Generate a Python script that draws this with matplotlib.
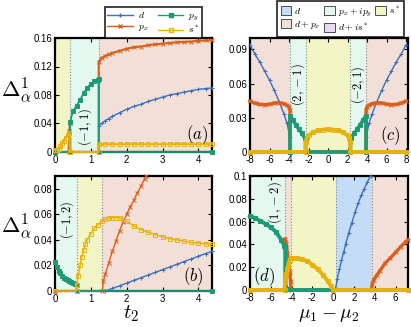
import matplotlib
matplotlib.use("Agg")
import matplotlib.pyplot as plt
from matplotlib.patches import Patch
from matplotlib.lines import Line2D

plt.rcParams['font.family'] = ['Liberation Sans', 'DejaVu Sans']
plt.rcParams['mathtext.fontset'] = 'cm'

# ---------------- colours ----------------
C_D, C_PX, C_PY, C_S = "#3c6fc0", "#d9601a", "#1d9a76", "#e8b20e"
R_D, R_DPX, R_PXPY, R_DIS, R_S = "#c4dcf6", "#f2e0d8", "#e4f8ef", "#e6d8f0", "#f2f5c6"

# ---------------- panel (a) data: t2 ----------------
a_d_x = [0, 1.22, 1.22, 1.3, 1.4, 1.5, 1.6, 1.8, 2.0, 2.2, 2.4, 2.6, 2.8, 3.0, 3.2, 3.4, 3.6, 3.8, 4.0, 4.2, 4.38]
a_d_y = [0, 0, 0.036, 0.040, 0.044, 0.047, 0.050, 0.055, 0.060, 0.064, 0.067, 0.071, 0.074, 0.077, 0.080, 0.082, 0.084, 0.086, 0.088, 0.089, 0.090]
a_px_x = [0, 0.38, 0.40, 0.42, 0.43, 1.22, 1.22, 1.3, 1.4, 1.5, 1.6, 1.8, 2.0, 2.2, 2.4, 2.6, 2.8, 3.0, 3.2, 3.4, 3.6, 3.8, 4.0, 4.2, 4.38]
a_px_y = [0, 0, 0.030, 0.040, 0, 0, 0.127, 0.132, 0.135, 0.137, 0.139, 0.142, 0.145, 0.147, 0.148, 0.150, 0.151, 0.152, 0.153, 0.154, 0.1545, 0.155, 0.156, 0.1565, 0.157]
a_py_x = [0, 0.42, 0.42, 0.5, 0.6, 0.7, 0.8, 0.9, 1.0, 1.1, 1.2, 1.22, 1.22, 4.38]
a_py_y = [0, 0, 0.042, 0.057, 0.065, 0.073, 0.083, 0.090, 0.096, 0.099, 0.101, 0.102, 0, 0]
a_s_x = [0, 0.05, 0.1, 0.15, 0.2, 0.25, 0.3, 0.35, 0.4, 0.42, 1.22, 1.22, 1.4, 1.6, 1.8, 2.0, 2.2, 2.4, 2.6, 2.8, 3.0, 3.2, 3.4, 3.6, 3.8, 4.0, 4.2, 4.38]
a_s_y = [0.003, 0.003, 0.004, 0.008, 0.012, 0.016, 0.020, 0.024, 0.027, 0, 0, 0.011, 0.011, 0.011, 0.011, 0.011, 0.011, 0.011, 0.011, 0.011, 0.011, 0.011, 0.011, 0.011, 0.011, 0.011, 0.011, 0.011]
a_regions = [(0, 0.42, R_S), (0.42, 1.22, R_PXPY), (1.22, 4.38, R_DPX)]

# ---------------- panel (b) data: t2 ----------------
b_d_x = [0, 1.4, 1.6, 1.8, 2.0, 2.2, 2.4, 2.6, 2.8, 3.0, 3.2, 3.4, 3.6, 3.8, 4.0, 4.2, 4.38]
b_d_y = [0, 0, 0.002, 0.004, 0.0062, 0.0083, 0.0104, 0.0125, 0.0146, 0.0167, 0.0188, 0.0209, 0.023, 0.0251, 0.0272, 0.0293, 0.031]
b_px_x = [0, 1.32, 1.35, 1.4, 1.5, 1.6, 1.7, 1.8, 1.9, 2.0, 2.1, 2.2, 2.3, 2.4, 2.5, 2.55]
b_px_y = [0, 0, 0.008, 0.013, 0.022, 0.031, 0.039, 0.047, 0.054, 0.060, 0.066, 0.071, 0.077, 0.082, 0.088, 0.090]
b_py_x = [0, 0.05, 0.1, 0.15, 0.2, 0.25, 0.3, 0.35, 0.4, 0.45, 0.5, 0.55, 0.6, 0.6, 4.38]
b_py_y = [0.023, 0.019, 0.016, 0.014, 0.012, 0.0105, 0.0095, 0.0085, 0.0075, 0.0068, 0.006, 0.0055, 0.005, 0, 0]
b_s_x = [0, 0.6, 0.6, 0.65, 0.7, 0.75, 0.8, 0.85, 0.9, 1.0, 1.1, 1.2, 1.3, 1.4, 1.5, 1.6, 1.7, 1.8, 1.9, 2.0, 2.2, 2.4, 2.6, 2.8, 3.0, 3.2, 3.4, 3.6, 3.8, 4.0, 4.2, 4.38]
b_s_y = [0, 0, 0.005, 0.012, 0.020, 0.027, 0.032, 0.037, 0.040, 0.045, 0.049, 0.052, 0.0545, 0.056, 0.057, 0.0575, 0.0575, 0.057, 0.056, 0.0545, 0.051, 0.048, 0.046, 0.044, 0.0425, 0.041, 0.040, 0.039, 0.038, 0.0375, 0.037, 0.0365]
b_regions = [(0, 0.6, R_PXPY), (0.6, 1.32, R_S), (1.32, 4.38, R_DPX)]

# ---------------- panel (c) data: mu1 - mu2 ----------------
c_d_x = [-8, -7.5, -7, -6.5, -6, -5.5, -5, -4.5, -4.2, -3.9, -3.9, 3.9, 3.9, 4.2, 4.5, 5, 5.5, 6, 6.5, 7, 7.5, 8]
c_d_y = [0.094, 0.086, 0.079, 0.071, 0.063, 0.054, 0.044, 0.033, 0.025, 0.013, 0, 0, 0.013, 0.025, 0.033, 0.044, 0.054, 0.063, 0.071, 0.079, 0.086, 0.094]
c_px_x = [-8, -7.5, -7, -6.5, -6, -5.5, -5, -4.5, -4.2, -4.0, -3.9, -3.9, 3.9, 3.9, 4.0, 4.2, 4.5, 5, 5.5, 6, 6.5, 7, 7.5, 8]
c_px_y = [0.0445, 0.043, 0.0417, 0.0415, 0.042, 0.043, 0.0432, 0.0425, 0.041, 0.0395, 0.037, 0, 0, 0.037, 0.0395, 0.041, 0.0425, 0.0432, 0.043, 0.042, 0.0415, 0.0417, 0.043, 0.0445]
c_py_x = [-8, -3.9, -3.9, -3.6, -3.3, -3.0, -2.7, -2.4, -2.3, -2.3, 2.3, 2.3, 2.4, 2.7, 3.0, 3.3, 3.6, 3.9, 3.9, 8]
c_py_y = [0, 0, 0.032, 0.028, 0.024, 0.020, 0.0165, 0.0125, 0.011, 0, 0, 0.011, 0.0125, 0.0165, 0.020, 0.024, 0.028, 0.032, 0, 0]
c_s_x = [-8, -2.3, -2.3, -2.2, -2.0, -1.5, -1.0, -0.5, 0, 0.5, 1.0, 1.5, 2.0, 2.2, 2.3, 2.3, 8]
c_s_y = [0, 0, 0.009, 0.012, 0.0145, 0.0175, 0.019, 0.0197, 0.020, 0.0197, 0.019, 0.0175, 0.0145, 0.012, 0.009, 0, 0]
c_regions = [(-8, -3.9, R_DPX), (-3.9, -2.3, R_PXPY), (-2.3, 2.3, R_S), (2.3, 3.9, R_PXPY), (3.9, 8.2, R_DPX)]

# ---------------- panel (d) data: mu1 - mu2 ----------------
d_d_x = [-8, -4.6, -4.6, -4.4, -4.2, 0.2, 0.4, 0.6, 0.8, 1.0, 1.2, 1.5, 1.8, 2.1, 2.4, 2.7, 3.0, 3.3, 3.6]
d_d_y = [0, 0, 0.006, 0.003, 0, 0, 0.010, 0.018, 0.026, 0.033, 0.040, 0.050, 0.059, 0.068, 0.076, 0.083, 0.089, 0.095, 0.100]
d_d2_x = [3.6, 7.2]
d_d2_y = [0, 0]
d_px_x = [-8, -4.6, -4.6, -4.5, -4.4, -4.3, -4.2, -4.1, -4.05, 3.7, 3.75, 3.9, 4.2, 4.5, 5.0, 5.5, 6.0, 6.5, 7.0, 7.2]
d_px_y = [0, 0, 0.045, 0.040, 0.032, 0.025, 0.016, 0.008, 0, 0, 0.005, 0.009, 0.013, 0.017, 0.0235, 0.028, 0.033, 0.038, 0.0425, 0.044]
d_py_x = [-8, -7.5, -7, -6.5, -6, -5.5, -5, -4.7, -4.6, -4.6, 7.2]
d_py_y = [0.065, 0.063, 0.0605, 0.058, 0.055, 0.051, 0.044, 0.039, 0.038, 0, 0]
d_s_x = [-8, -4.65, -4.65, -4.6, -4.5, -4.4, -4.3, -4.2, -4.1, -3.8, -3.5, -3.0, -2.5, -2.0, -1.5, -1.0, -0.5, -0.2, 0.0, 7.2]
d_s_y = [0, 0, 0.008, 0.011, 0.014, 0.018, 0.022, 0.026, 0.028, 0.028, 0.028, 0.027, 0.0255, 0.022, 0.0185, 0.0135, 0.0075, 0.0035, 0, 0]
d_regions = [(-8, -4.65, R_PXPY), (-4.65, -4.05, R_DPX), (-4.05, 0.25, R_S), (0.25, 3.7, R_D), (3.7, 7.2, R_DPX)]

# ---------------- ticks ----------------
ab_xticks = [0, 1, 2, 3, 4]
a_yticks = [0, 0.04, 0.08, 0.12, 0.16]
a_yticklabels = ["0", "0.04", "0.08", "0.12", "0.16"]
b_yticks = [0, 0.02, 0.04, 0.06, 0.08]
b_yticklabels = ["0", "0.02", "0.04", "0.06", "0.08"]
c_xticks = [-8, -6, -4, -2, 0, 2, 4, 6, 8]
c_yticks = [0, 0.03, 0.06, 0.09]
c_yticklabels = ["0", "0.03", "0.06", "0.09"]
d_xticks = [-8, -6, -4, -2, 0, 2, 4, 6]
d_yticks = [0, 0.02, 0.04, 0.06, 0.08, 0.1]
d_yticklabels = ["0", "0.02", "0.04", "0.06", "0.08", "0.1"]

W, H = 411, 327
fig = plt.figure(figsize=(W / 100, H / 100), dpi=100)


def box(l, r, t, b):
    return [l / W, 1 - b / H, (r - l) / W, (b - t) / H]


ax_a = fig.add_axes(box(55, 212, 38, 152))
ax_c = fig.add_axes(box(250, 408, 38, 152))
ax_b = fig.add_axes(box(55, 212, 176, 291))
ax_d = fig.add_axes(box(250, 408, 176, 290))


def shade(ax, regions):
    for i, (x0, x1, col) in enumerate(regions):
        ax.axvspan(x0, x1, color=col, lw=0, zorder=0)
        if i > 0:
            ax.axvline(x0, color="#8a8a8a", ls=":", lw=0.8, zorder=1)


def series(ax, x, y, col, marker, ms, lw, mfc=None, z=3):
    ax.plot(x, y, color=col, lw=lw, marker=marker, ms=ms, mew=0.7,
            mfc=(col if mfc is None else mfc), zorder=z, clip_on=False)


def style(ax, xlim, ylim, xt, yt, ytl):
    ax.set_xlim(*xlim)
    ax.set_ylim(*ylim)
    ax.set_xticks(xt)
    ax.set_xticklabels([str(v) for v in xt])
    ax.set_yticks(yt)
    ax.set_yticklabels(ytl)
    ax.tick_params(direction="in", length=3, width=0.8, top=True, right=True,
                   labelsize=7, pad=2)
    for s in ax.spines.values():
        s.set_linewidth(1.6)
        s.set_zorder(2)


# panel a
shade(ax_a, a_regions)
series(ax_a, a_d_x, a_d_y, C_D, "+", 2.8, 1.0)
series(ax_a, a_px_x, a_px_y, C_PX, "x", 2.4, 1.5)
series(ax_a, a_py_x, a_py_y, C_PY, "s", 2.2, 1.3)
series(ax_a, a_s_x, a_s_y, C_S, "s", 2.4, 1.4, mfc="none")
style(ax_a, (0, 4.38), (0, 0.16), ab_xticks, a_yticks, a_yticklabels)
ax_a.text(0.83, 0.035, r"$(-1,1)$", rotation=90, ha="center", va="center", fontsize=9)
ax_a.text(3.95, 0.024, r"$(a)$", ha="center", va="center", fontsize=12)

# panel b
shade(ax_b, b_regions)
series(ax_b, b_d_x, b_d_y, C_D, "+", 2.8, 1.0)
series(ax_b, b_px_x, b_px_y, C_PX, "x", 2.4, 1.0)
series(ax_b, b_py_x, b_py_y, C_PY, "s", 2.2, 1.3)
series(ax_b, b_s_x, b_s_y, C_S, "s", 2.4, 1.1, mfc="none")
style(ax_b, (0, 4.38), (0, 0.09), ab_xticks, b_yticks, b_yticklabels)
ax_b.text(0.33, 0.056, r"$(-1,2)$", rotation=90, ha="center", va="center", fontsize=9)
ax_b.text(3.85, 0.0115, r"$(b)$", ha="center", va="center", fontsize=12)

# panel c
shade(ax_c, c_regions)
series(ax_c, c_d_x, c_d_y, C_D, "+", 2.8, 1.0)
series(ax_c, c_px_x, c_px_y, C_PX, "x", 2.4, 2.4)
series(ax_c, c_py_x, c_py_y, C_PY, "s", 2.2, 2.6)
series(ax_c, c_s_x, c_s_y, C_S, "s", 2.4, 2.8, mfc="none")
style(ax_c, (-8, 8.2), (0, 0.1), c_xticks, c_yticks, c_yticklabels)
ax_c.text(-3.1, 0.059, r"$(2,-1)$", rotation=90, ha="center", va="center", fontsize=9)
ax_c.text(3.1, 0.059, r"$(-2,1)$", rotation=90, ha="center", va="center", fontsize=9)
ax_c.text(6.4, 0.0145, r"$(c)$", ha="center", va="center", fontsize=12)

# panel d
shade(ax_d, d_regions)
series(ax_d, d_d_x, d_d_y, C_D, "+", 2.8, 1.0)
series(ax_d, d_d2_x, d_d2_y, C_D, None, 2.8, 1.0)
series(ax_d, d_px_x, d_px_y, C_PX, "x", 2.4, 2.4)
series(ax_d, d_py_x, d_py_y, C_PY, "s", 2.2, 2.8)
series(ax_d, d_s_x, d_s_y, C_S, "s", 2.4, 2.8, mfc="none")
style(ax_d, (-8, 7.2), (0, 0.1), d_xticks, d_yticks, d_yticklabels)
ax_d.text(-5.6, 0.077, r"$(1,-2)$", rotation=90, ha="center", va="center", fontsize=9)
ax_d.text(-6.7, 0.012, r"$(d)$", ha="center", va="center", fontsize=12)

# axis labels
fig.text(16 / W, 1 - 90 / H, r"$\Delta^1_\alpha$", ha="center", va="center", fontsize=16)
fig.text(16 / W, 1 - 226 / H, r"$\Delta^1_\alpha$", ha="center", va="center", fontsize=16)
fig.text(131 / W, 1 - 314 / H, r"$t_2$", ha="center", va="center", fontsize=15)
fig.text(329 / W, 1 - 315 / H, r"$\mu_1-\mu_2$", ha="center", va="center", fontsize=14)

# legends
h1 = [Line2D([], [], color=C_D, marker="+", ms=3, lw=1.0),
      Line2D([], [], color=C_PX, marker="x", ms=2.6, lw=1.0),
      Line2D([], [], color=C_PY, marker="s", ms=2.4, lw=1.0),
      Line2D([], [], color=C_S, marker="s", ms=2.6, lw=1.0, mfc="none")]
l1 = [r"$d$", r"$p_x$", r"$p_y$", r"$s^*$"]
leg1 = fig.legend(h1, l1, ncol=2, loc="center",
                  bbox_to_anchor=(153.5 / W, 1 - 22.5 / H), fontsize=7,
                  frameon=True, fancybox=False, edgecolor="black",
                  handlelength=2.6, handletextpad=0.5, columnspacing=1.0,
                  labelspacing=0.1, borderpad=0.3, borderaxespad=0)
leg1.get_frame().set_linewidth(1.3)

h2 = [Patch(facecolor=R_D, edgecolor="#333333", lw=0.6),
      Patch(facecolor=R_DPX, edgecolor="#333333", lw=0.6),
      Patch(facecolor=R_PXPY, edgecolor="#333333", lw=0.6),
      Patch(facecolor=R_DIS, edgecolor="#333333", lw=0.6),
      Patch(facecolor=R_S, edgecolor="#333333", lw=0.6)]
l2 = [r"$d$", r"$d+p_x$", r"$p_x+ip_y$", r"$d+is^*$", r"$s^*$"]
leg2 = fig.legend(h2, l2, ncol=3, loc="center",
                  bbox_to_anchor=(340.5 / W, 1 - 19 / H), fontsize=7,
                  frameon=True, fancybox=False, edgecolor="black",
                  handlelength=1.1, handleheight=1.1, handletextpad=0.3,
                  columnspacing=0.35, labelspacing=0.3, borderpad=0.35,
                  borderaxespad=0)
leg2.get_frame().set_linewidth(1.3)

fig.savefig("out.png", dpi=100)
